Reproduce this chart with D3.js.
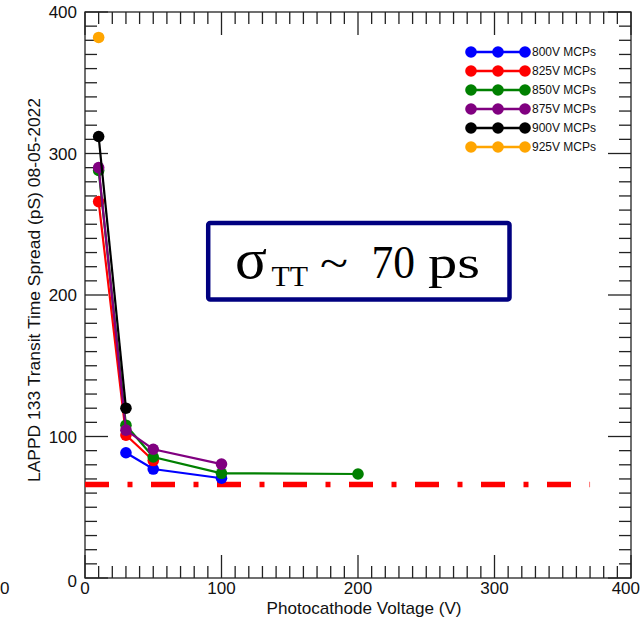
<!DOCTYPE html>
<html>
<head>
<meta charset="utf-8">
<script src="https://cdn.jsdelivr.net/npm/d3@7"></script>
<style>
  html, body { margin: 0; padding: 0; background: #fff; }
  svg { display: block; }
</style>
</head>
<body>
<svg id="chart" width="641" height="620"></svg>
<script>
// ---- data ----
const seriesNames = ["800V MCPs", "825V MCPs", "850V MCPs", "875V MCPs", "900V MCPs", "925V MCPs"];
const seriesColors = ["#0000ff", "#ff0000", "#008000", "#800080", "#000000", "#ffa500"];
const x800 = [30, 50, 100];
const y800 = [88.5, 77, 70.5];
const x825 = [10, 30, 50];
const y825 = [266, 101, 83];
const x850 = [10, 30, 50, 100, 200];
const y850 = [288, 108, 85.5, 74, 73.5];
const x875 = [10, 30, 50, 100];
const y875 = [290, 104.5, 91, 80.5];
const x900 = [10, 30];
const y900 = [312, 120];
const x925 = [10];
const y925 = [382];
const refLevel = 66;          // dash-dot reference line (ps)
const refLineEnd = 370;       // x extent of reference line (V)
const xTicks = [0, 100, 200, 300, 400];
const yTicks = [0, 100, 200, 300, 400];
const xTitle = "Photocathode Voltage (V)";
const yTitle = "LAPPD 133 Transit Time Spread (pS) 08-05-2022";

const seriesX = [x800, x825, x850, x875, x900, x925];
const seriesY = [y800, y825, y850, y875, y900, y925];

// ---- layout ----
const svg = d3.select("#chart");
const L = 85, R = 631, T = 12, B = 578;
const x = d3.scaleLinear().domain([0, 400]).range([L, R]);
const y = d3.scaleLinear().domain([0, 400]).range([B, T]);
const font = "'Liberation Sans', Arial, Helvetica, sans-serif";
const minor = d3.range(0, 401, 10).filter(v => v % 100 !== 0);
const MINOR = 12, MAJOR = 23;

// frame
svg.append("rect").attr("x", L).attr("y", T).attr("width", R - L).attr("height", B - T)
  .attr("fill", "none").attr("stroke", "#222").attr("stroke-width", 1.3);

// ticks (drawn from the scales)
const tickG = svg.append("g");
function addTicks(vals, len) {
  vals.forEach(d => {
    const px = x(d), py = y(d);
    [[px, B, px, B - len], [px, T, px, T + len], [L, py, L + len, py], [R, py, R - len, py]].forEach(c => {
      tickG.append("line").attr("x1", c[0]).attr("y1", c[1]).attr("x2", c[2]).attr("y2", c[3])
        .attr("stroke", "#222").attr("stroke-width", 1.3);
    });
  });
}
addTicks(minor, MINOR);
addTicks(xTicks, MAJOR);

// tick labels
svg.append("g").selectAll("text").data(xTicks.slice(0, 4)).join("text")
  .attr("x", d => x(d)).attr("y", 594).attr("text-anchor", "middle")
  .attr("font-family", font).attr("font-size", 17).attr("fill", "#111").text(d => d);
svg.append("text").attr("x", 640).attr("y", 594).attr("text-anchor", "end")
  .attr("font-family", font).attr("font-size", 17).attr("fill", "#111").text(xTicks[4]);
svg.append("g").selectAll("text").data(yTicks).join("text")
  .attr("x", 77).attr("y", d => d === 0 ? y(d) + 9 : y(d) + 6).attr("text-anchor", "end")
  .attr("font-family", font).attr("font-size", 17).attr("fill", "#111").text(d => d);

// neighbouring panel's cut-off label at far left
svg.append("text").attr("x", 0).attr("y", 594).attr("text-anchor", "start")
  .attr("font-family", font).attr("font-size", 17).attr("fill", "#111").text("0");

// axis titles
svg.append("text").attr("x", 364).attr("y", 614).attr("text-anchor", "middle")
  .attr("font-family", font).attr("font-size", 17).attr("fill", "#111")
  .attr("textLength", 195).attr("lengthAdjust", "spacingAndGlyphs").text(xTitle);
svg.append("text").attr("transform", "translate(39.5,290) rotate(-90)").attr("text-anchor", "middle")
  .attr("font-family", font).attr("font-size", 17).attr("fill", "#111")
  .attr("textLength", 384).attr("lengthAdjust", "spacingAndGlyphs").text(yTitle);

// reference dash-dot line
svg.append("line").attr("x1", x(0)).attr("x2", x(refLineEnd)).attr("y1", y(refLevel)).attr("y2", y(refLevel))
  .attr("stroke", "#ff0000").attr("stroke-width", 5.5).attr("stroke-dasharray", "24,18.5,5,18.5");

// series
const line = d3.line().x(d => x(d[0])).y(d => y(d[1]));
seriesNames.forEach((name, i) => {
  const pts = seriesX[i].map((v, j) => [v, seriesY[i][j]]);
  const g = svg.append("g");
  if (pts.length > 1) {
    g.append("path").attr("d", line(pts)).attr("fill", "none")
      .attr("stroke", seriesColors[i]).attr("stroke-width", 2.2);
  }
  g.selectAll("circle").data(pts).join("circle")
    .attr("cx", d => x(d[0])).attr("cy", d => y(d[1])).attr("r", 5.8)
    .attr("fill", seriesColors[i]);
});

// legend
const legX = [471, 498, 525];
seriesNames.forEach((name, i) => {
  const ly = 52 + i * 19;
  const g = svg.append("g");
  g.append("line").attr("x1", legX[0]).attr("x2", legX[2]).attr("y1", ly).attr("y2", ly)
    .attr("stroke", seriesColors[i]).attr("stroke-width", 2.5);
  legX.forEach(lx => g.append("circle").attr("cx", lx).attr("cy", ly).attr("r", 5.8).attr("fill", seriesColors[i]));
  g.append("text").attr("x", 532).attr("y", ly).attr("dy", "0.35em")
    .attr("font-family", font).attr("font-size", 12).attr("fill", "#111").text(name);
});

// annotation box
svg.append("rect").attr("x", 208.2).attr("y", 222.9).attr("width", 301.3).attr("height", 76.6)
  .attr("rx", 2).attr("fill", "#fff").attr("stroke", "#000080").attr("stroke-width", 4.5);
const serif = "'Liberation Serif', 'Times New Roman', serif";
const ann = svg.append("g").attr("font-family", serif).attr("fill", "#000");
ann.append("text").attr("x", 235).attr("y", 278).attr("font-size", 58)
  .attr("textLength", 32).attr("lengthAdjust", "spacingAndGlyphs").text("σ");
ann.append("text").attr("x", 271.5).attr("y", 286).attr("font-size", 29)
  .attr("textLength", 36.5).attr("lengthAdjust", "spacingAndGlyphs").text("TT");
ann.append("text").attr("x", 320).attr("y", 278).attr("font-size", 44)
  .attr("textLength", 28).attr("lengthAdjust", "spacingAndGlyphs").text("~");
ann.append("text").attr("x", 371.5).attr("y", 278).attr("font-size", 46)
  .attr("textLength", 43.5).attr("lengthAdjust", "spacingAndGlyphs").text("70");
ann.append("text").attr("x", 428).attr("y", 278).attr("font-size", 46)
  .attr("textLength", 52).attr("lengthAdjust", "spacingAndGlyphs").text("ps");
</script>
</body>
</html>
